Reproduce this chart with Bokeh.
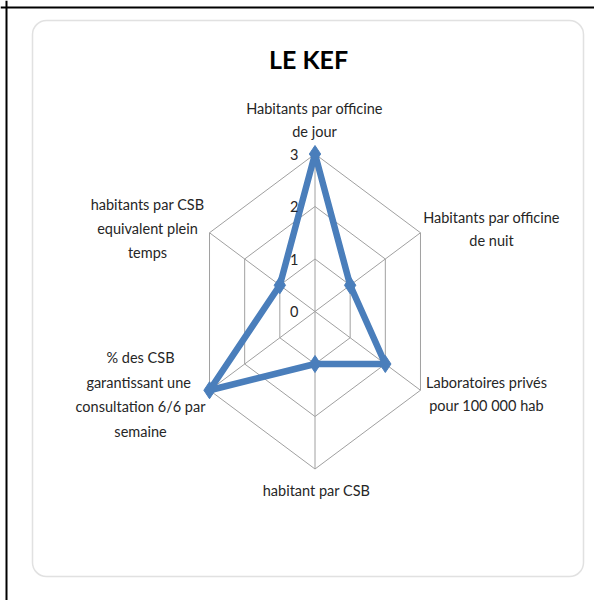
import numpy as np
from bokeh.plotting import figure
from bokeh.models import BoxAnnotation, Span
from bokeh.core.properties import value
from bokeh.embed import file_html
from bokeh.resources import INLINE

# ---------------- data ----------------
title = "LE KEF"
categories = [
    ["Habitants par officine", "de jour"],
    ["Habitants par officine", "de nuit"],
    ["Laboratoires privés", "pour 100 000 hab"],
    ["habitant par CSB"],
    ["% des CSB", "garantissant  une", "consultation 6/6 par", "semaine"],
    ["habitants par CSB", "equivalent plein", "temps"],
]
values = [3, 1, 2, 1, 3, 1]
tick_values = [0, 1, 2, 3]
tick_labels = ["0", "1", "2", "3"]
r_max = 3

# ---------------- layout ----------------
W, H = 594, 600
OX, OY = 0, 0                  # page offset of the figure
CXP, CYP = 314.5, 311.0        # page position of the radar centre
PX_X, PX_Y = 40.6, 52.5        # pixels per unit (x, y)

x_start = -(CXP - OX) / PX_X
x_end = x_start + W / PX_X
y_end = (CYP - OY) / PX_Y
y_start = y_end - H / PX_Y


def dx(px):
    return (px - CXP) / PX_X


def dy(py):
    return (CYP - py) / PX_Y


FONT = value("Lato")
TXT = "#262626"

p = figure(width=W, height=H, x_range=(x_start, x_end), y_range=(y_start, y_end),
           output_backend="svg", toolbar_location=None, min_border=0)
p.axis.visible = False
p.grid.visible = False
p.outline_line_color = None
p.background_fill_color = "white"
p.border_fill_color = "white"

# black frame lines (top & left)
p.add_layout(Span(location=dx(6), dimension="height",
                  line_color="black", line_width=2))
p.add_layout(Span(location=dy(7), dimension="width",
                  line_color="black", line_width=2))

# rounded chart area
p.add_layout(BoxAnnotation(left=dx(32), right=dx(583), top=dy(20), bottom=dy(576),
                           fill_color="white", fill_alpha=1.0,
                           line_color="#9a9a9a", line_width=1.5,
                           border_radius=14, level="underlay"))

n = len(values)
theta = np.arange(n) * 2 * np.pi / n

# rings
for t in tick_values[1:]:
    xs = list(t * np.sin(theta)) + [t * np.sin(theta[0])]
    ys = list(t * np.cos(theta)) + [t * np.cos(theta[0])]
    p.line(xs, ys, line_color="#a0a0a0", line_width=1)
# spokes
for th in theta:
    p.line([0, r_max * np.sin(th)], [0, r_max * np.cos(th)],
           line_color="#a0a0a0", line_width=1)

# series
v = np.array(values, dtype=float)
sx = list(v * np.sin(theta)) + [v[0] * np.sin(theta[0])]
sy = list(v * np.cos(theta)) + [v[0] * np.cos(theta[0])]
p.line(sx, sy, line_color="#4a7ebb", line_width=6.5, line_join="round")
p.scatter(v * np.sin(theta), v * np.cos(theta), marker="diamond", size=17,
          fill_color="#4a7ebb", line_color="#4a7ebb")

# tick labels
p.text(x=[dx(298)] * len(tick_values), y=list(np.array(tick_values, dtype=float)),
       text=tick_labels, text_align="right", text_baseline="middle",
       text_font=FONT, text_font_size="14.5px", text_color=TXT)

# category labels
anchors = [(314, 108, 23), (491, 217, 23), (486, 382, 23),
           (316, 490, 23), (140, 357, 24.5), (147, 204, 24)]
lx, ly, lt = [], [], []
for lines, (ax, ay, sp) in zip(categories, anchors):
    for j, line in enumerate(lines):
        lx.append(dx(ax))
        ly.append(dy(ay + j * sp))
        lt.append(line)
p.text(x=lx, y=ly, text=lt, text_align="center", text_baseline="middle",
       text_font=FONT, text_font_size="14.5px", text_color=TXT)

# title
p.text(x=[dx(308)], y=[dy(58)], text=[title], text_align="center",
       text_baseline="middle", text_font=FONT, text_font_size="25px",
       text_font_style="bold", text_color="black")

open("out.html", "w").write(file_html(p, INLINE))
